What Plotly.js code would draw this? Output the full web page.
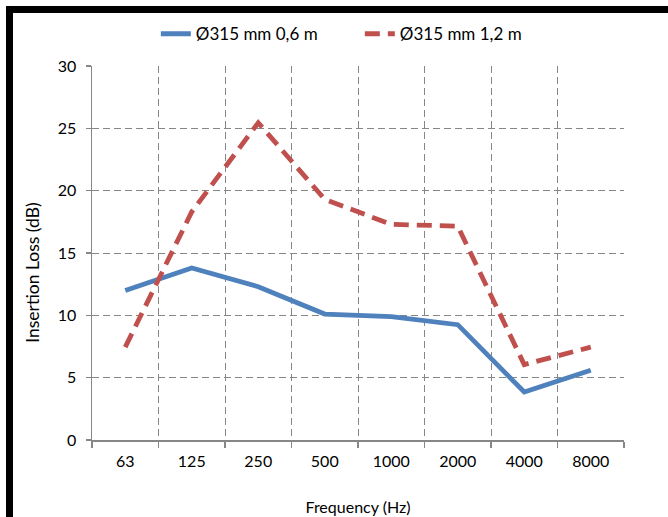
<!DOCTYPE html>
<html>
<head>
<meta charset="utf-8">
<script src="https://cdn.plot.ly/plotly-3.0.1.min.js"></script>
<style>
  html, body { margin: 0; padding: 0; background: #ffffff; overflow: hidden; }
  #chart { position: absolute; left: 0; top: 0; width: 668px; height: 517px; }
  #frame { position: absolute; left: 6px; top: 6px; width: 700px; height: 600px;
           border-left: 7px solid #000; border-top: 7px solid #000; pointer-events: none; }
</style>
</head>
<body>
<div id="chart"></div>
<div id="frame"></div>
<script>
const categories = ["63", "125", "250", "500", "1000", "2000", "4000", "8000"];
const seriesNames = ["Ø315 mm 0,6 m", "Ø315 mm 1,2 m"];
const loss06 = [12.0, 13.8, 12.3, 10.1, 9.9, 9.25, 3.85, 5.6];
const loss12 = [7.45, 18.3, 25.45, 19.3, 17.3, 17.15, 6.05, 7.45];
const yTicks = [0, 5, 10, 15, 20, 25, 30];
const xTitle = "Frequency (Hz)";
const yTitle = "Insertion Loss (dB)";

const font = "Lato, 'Open Sans', sans-serif";
const gridColor = "#878787";

const traces = [
  {
    x: categories, y: loss06, name: seriesNames[0], type: "scatter", mode: "lines",
    line: { color: "#4F81BD", width: 4.8 }
  },
  {
    x: categories, y: loss12, name: seriesNames[1], type: "scatter", mode: "lines",
    line: { color: "#C0504D", width: 4.8, dash: "15px,8px" }
  }
];

const layout = {
  width: 668, height: 517,
  margin: { l: 92, r: 44, t: 66, b: 77 },
  paper_bgcolor: "#ffffff", plot_bgcolor: "#ffffff",
  font: { family: font, size: 16, color: "#000000" },
  showlegend: true,
  legend: {
    orientation: "h", x: 0.12, xanchor: "left", y: 1.085, yanchor: "middle",
    entrywidth: 159, entrywidthmode: "pixels",
    font: { family: font, size: 17, color: "#000" }, bgcolor: "rgba(0,0,0,0)",
    traceorder: "normal"
  },
  xaxis: {
    type: "category",
    range: [-0.5, 7.5],
    tickson: "boundaries",
    ticks: "outside", ticklen: 6, tickcolor: gridColor, tickwidth: 1.5,
    showgrid: true, gridcolor: gridColor, gridwidth: 1, griddash: "7px,4px",
    showline: true, linecolor: gridColor, linewidth: 1.5,
    zeroline: false,
    ticklabelstandoff: 6,
    tickfont: { family: font, size: 16, color: "#000" },
    title: { text: xTitle, font: { family: font, size: 16, color: "#000" }, standoff: 33 }
  },
  yaxis: {
    range: [0, 30], tickvals: yTicks,
    ticks: "outside", ticklen: 5, tickcolor: gridColor, tickwidth: 1.5,
    showgrid: true, gridcolor: gridColor, gridwidth: 1, griddash: "7px,4px",
    showline: true, linecolor: gridColor, linewidth: 1.5,
    zeroline: false,
    ticklabelstandoff: 6,
    tickfont: { family: font, size: 16, color: "#000" }
  },
  annotations: [
    {
      text: yTitle, textangle: -90, showarrow: false,
      xref: "paper", yref: "paper", x: -0.111, y: 0.447,
      xanchor: "center", yanchor: "middle",
      font: { family: font, size: 17.5, color: "#000" }
    }
  ]
};

Plotly.newPlot("chart", traces, layout, { displayModeBar: false, staticPlot: true });
</script>
</body>
</html>
